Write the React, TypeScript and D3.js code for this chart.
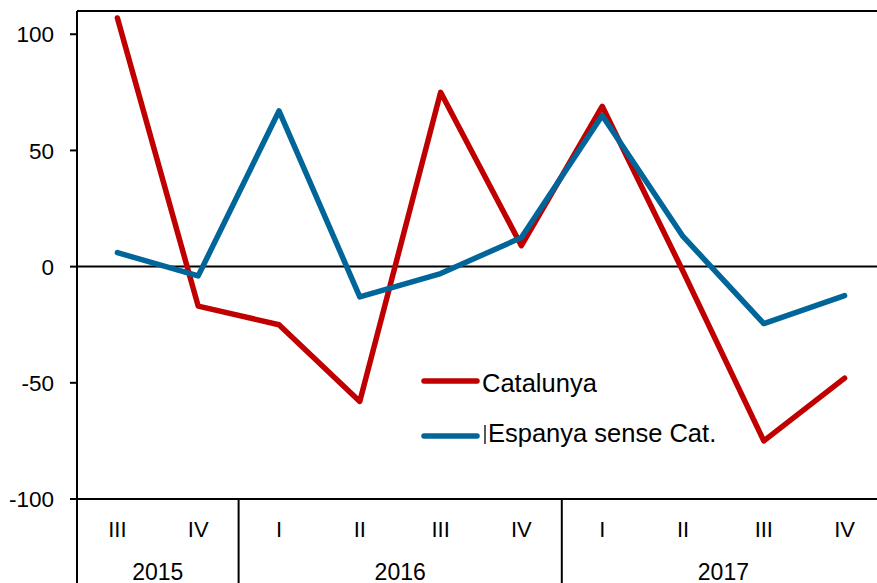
import React from 'react';
import * as d3 from 'd3';

const quarters = ['III', 'IV', 'I', 'II', 'III', 'IV', 'I', 'II', 'III', 'IV'];
const years = ['2015', '2016', '2017'];
const yearQuarterCounts = [2, 4, 4];
const catalunya = [107, -17, -25, -58, 75, 9, 69, -2, -75, -48];
const espanya = [6, -4, 67, -13, -3, 12.5, 65, 13, -24.5, -12.5];
const yTicks = [-100, -50, 0, 50, 100];
const seriesNames = ['Catalunya', 'Espanya sense Cat.'];
const seriesColors = ['#C00000', '#00669A'];

const W = 877;
const H = 583;
const FONT = '"Liberation Sans", Arial, sans-serif';

export default function App() {
  const left = 77;
  const step = 80.8;
  const x = d3
    .scaleBand<number>()
    .domain(quarters.map((_, i) => i))
    .range([left, left + step * quarters.length]);
  const y = d3.scaleLinear().domain([-100, 110]).range([499, 11]);
  const cx = (i: number) => (x(i) as number) + x.bandwidth() / 2;

  const line = d3
    .line<number>()
    .x((_, i) => cx(i))
    .y((d) => y(d));

  const series = [catalunya, espanya];

  const bounds: number[] = [0];
  yearQuarterCounts.forEach((n, i) => bounds.push(bounds[i] + n));
  const edge = (k: number) => left + k * step;

  const legendLineY = [381, 436];
  const legendTextY = [391.5, 441.5];
  const legendTextX = [482, 488];

  return (
    <svg
      width={W}
      height={H}
      style={{ position: 'absolute', left: 0, top: 0, background: '#fff' }}
      fontFamily={FONT}
    >
      <line x1={left} x2={W} y1={y(110)} y2={y(110)} stroke="#000" strokeWidth={2} />
      <line x1={left} x2={W} y1={y(0)} y2={y(0)} stroke="#000" strokeWidth={2} />
      <line x1={70} x2={W} y1={y(-100)} y2={y(-100)} stroke="#000" strokeWidth={2} />
      <line x1={left} x2={left} y1={y(110)} y2={H} stroke="#000" strokeWidth={2} />
      {yTicks.map((t) => (
        <g key={t}>
          <line x1={70} x2={left} y1={y(t)} y2={y(t)} stroke="#000" strokeWidth={2} />
          <text
            x={54}
            y={y(t)}
            dy="0.36em"
            textAnchor="end"
            fontSize={22.5}
            fill="#000"
          >
            {t}
          </text>
        </g>
      ))}
      {bounds.slice(1).map((b, i) => (
        <line
          key={i}
          x1={edge(b)}
          x2={edge(b)}
          y1={y(-100)}
          y2={H}
          stroke="#000"
          strokeWidth={2}
        />
      ))}
      {quarters.map((q, i) => (
        <text
          key={i}
          x={cx(i)}
          y={537}
          textAnchor="middle"
          fontSize={22}
          fill="#000"
        >
          {q}
        </text>
      ))}
      {years.map((yr, i) => (
        <text
          key={yr}
          x={(edge(bounds[i]) + edge(bounds[i + 1])) / 2}
          y={580}
          textAnchor="middle"
          fontSize={23}
          fill="#000"
        >
          {yr}
        </text>
      ))}
      {series.map((s, k) => (
        <path
          key={k}
          d={line(s) as string}
          fill="none"
          stroke={seriesColors[k]}
          strokeWidth={5.5}
          strokeLinejoin="round"
          strokeLinecap="round"
        />
      ))}
      {seriesNames.map((name, k) => (
        <g key={name}>
          <line
            x1={424}
            x2={477}
            y1={legendLineY[k]}
            y2={legendLineY[k]}
            stroke={seriesColors[k]}
            strokeWidth={5.5}
            strokeLinecap="round"
          />
          {k === 1 && (
            <line x1={485} x2={485} y1={425} y2={444} stroke="#000" strokeWidth={1.3} />
          )}
          <text x={legendTextX[k]} y={legendTextY[k]} fontSize={25.5} fill="#000">
            {name}
          </text>
        </g>
      ))}
    </svg>
  );
}
